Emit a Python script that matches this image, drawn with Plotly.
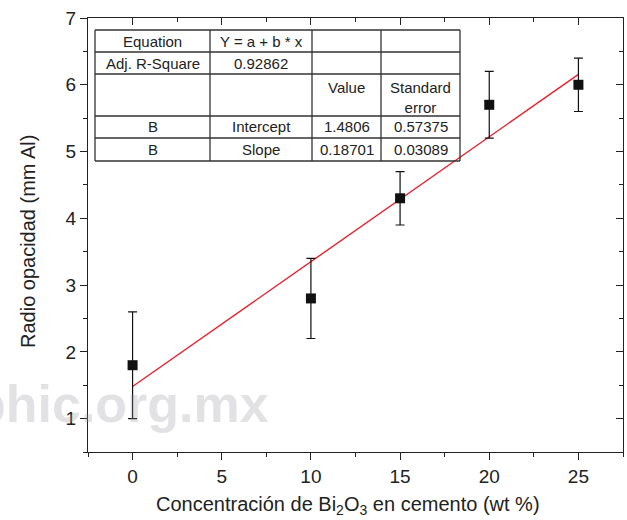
import plotly.graph_objects as go

# ---- data ----
conc = [0, 10, 15, 20, 25]
radio = [1.8, 2.8, 4.3, 5.7, 6.0]
err = [0.8, 0.6, 0.4, 0.5, 0.4]

intercept = 1.4806
slope = 0.18701
fit_x = [0, 25]
fit_y = [intercept + slope * v for v in fit_x]

table_rows = [
    ["Equation", "Y = a + b * x", "", ""],
    ["Adj. R-Square", "0.92862", "", ""],
    ["", "", "Value", "Standard<br>error"],
    ["B", "Intercept", "1.4806", "0.57375"],
    ["B", "Slope", "0.18701", "0.03089"],
]

x_ticks = [0, 5, 10, 15, 20, 25]
y_ticks = [1, 2, 3, 4, 5, 6, 7]

# ---- layout geometry (pixels) ----
W, H = 627, 520
L, R, T, B = 88, 4, 18, 68
PW = W - L - R
PH = H - T - B


def px(xp):
    return (xp - L) / PW


def py(yp):
    return (H - B - yp) / PH


FONT = "Liberation Sans, Arial, Helvetica, sans-serif"
AX = "#222222"

fig = go.Figure()

fig.add_trace(go.Scatter(
    x=fit_x, y=fit_y, mode="lines",
    line=dict(color="#e8202a", width=1.4),
    showlegend=False, hoverinfo="skip",
))

fig.add_trace(go.Scatter(
    x=conc, y=radio, mode="markers",
    marker=dict(symbol="square", size=10, color="#111111"),
    error_y=dict(type="data", array=err, visible=True,
                 color="#111111", thickness=1.2, width=4.5),
    showlegend=False,
))

# invisible trace for mirrored (inward) top/right axes
fig.add_trace(go.Scatter(x=[], y=[], xaxis="x2", yaxis="y2",
                         showlegend=False, hoverinfo="skip"))

axis_common = dict(
    showgrid=False, zeroline=False, showline=True, automargin=False,
    linecolor=AX, linewidth=1.3, tickcolor=AX, tickwidth=1.2,
)

fig.update_layout(
    width=W, height=H,
    margin=dict(l=L, r=R, t=T, b=B, pad=0),
    paper_bgcolor="white", plot_bgcolor="white",
    font=dict(family=FONT, color="#222222"),
    xaxis=dict(
        range=[-2.5, 27.5], tickvals=x_ticks,
        ticks="outside", ticklen=7,
        minor=dict(ticks="outside", ticklen=4, dtick=2.5, tick0=0,
                   tickcolor=AX, tickwidth=1.2),
        tickfont=dict(size=19, family=FONT, color="#222222"),
        **axis_common,
    ),
    yaxis=dict(
        range=[0.5, 7], tickvals=y_ticks,
        ticks="outside", ticklen=7,
        minor=dict(ticks="outside", ticklen=4, dtick=0.5, tick0=0,
                   tickcolor=AX, tickwidth=1.2),
        tickfont=dict(size=19, family=FONT, color="#222222"),
        **axis_common,
    ),
    xaxis2=dict(
        overlaying="x", side="top", anchor="y2", matches="x",
        range=[-2.5, 27.5], tickvals=x_ticks, showticklabels=False,
        ticks="inside", ticklen=7,
        minor=dict(ticks="inside", ticklen=4, dtick=2.5, tick0=0,
                   tickcolor=AX, tickwidth=1.2),
        **axis_common,
    ),
    yaxis2=dict(
        overlaying="y", side="right", anchor="x2",
        range=[0.5, 7], tickvals=y_ticks, showticklabels=False,
        ticks="inside", ticklen=7,
        minor=dict(ticks="inside", ticklen=4, dtick=0.5, tick0=0,
                   tickcolor=AX, tickwidth=1.2),
        **axis_common,
    ),
)

# ---- axis titles as annotations (precise placement) ----
fig.add_annotation(
    xref="paper", yref="paper", x=px(348), y=py(505),
    xanchor="center", yanchor="middle", showarrow=False,
    text="Concentración de Bi<sub>2</sub>O<sub>3</sub> en cemento (wt %)",
    font=dict(size=20, family=FONT, color="#222222"),
)
fig.add_annotation(
    xref="paper", yref="paper", x=px(28), y=py(242),
    xanchor="center", yanchor="middle", showarrow=False, textangle=-90,
    text="Radio opacidad (mm Al)",
    font=dict(size=20, family=FONT, color="#222222"),
)

# ---- watermark ----
fig.add_annotation(
    xref="paper", yref="paper", x=px(271), y=py(404),
    xanchor="right", yanchor="middle", showarrow=False,
    text="<b>phic.org.mx</b>",
    font=dict(size=52, family=FONT, color="rgba(150,150,158,0.28)"),
)

# ---- table ----
col_x = [95, 210, 312, 381, 460]
row_y = [30, 52, 74, 116, 138, 161]
TL = "#333333"
for xv in col_x:
    fig.add_shape(type="line", xref="paper", yref="paper",
                  x0=px(xv), x1=px(xv), y0=py(row_y[0]), y1=py(row_y[-1]),
                  line=dict(color=TL, width=1.3))
for yv in row_y:
    fig.add_shape(type="line", xref="paper", yref="paper",
                  x0=px(col_x[0]), x1=px(col_x[-1]), y0=py(yv), y1=py(yv),
                  line=dict(color=TL, width=1.3))

for ri, row in enumerate(table_rows):
    for ci, txt in enumerate(row):
        if not txt:
            continue
        cx = (col_x[ci] + col_x[ci + 1]) / 2
        if ri == 2:
            ytop = row_y[ri] + 3
            fig.add_annotation(xref="paper", yref="paper", x=px(cx), y=py(ytop),
                               xanchor="center", yanchor="top", showarrow=False,
                               text=txt, align="center",
                               font=dict(size=15, family=FONT, color="#222222"))
        else:
            cy = (row_y[ri] + row_y[ri + 1]) / 2
            fig.add_annotation(xref="paper", yref="paper", x=px(cx), y=py(cy),
                               xanchor="center", yanchor="middle", showarrow=False,
                               text=txt,
                               font=dict(size=15, family=FONT, color="#222222"))

fig.write_html(
    "out.html",
    config={"displayModeBar": False},
    post_script="document.body.style.margin='0';document.body.style.overflow='hidden';",
)
